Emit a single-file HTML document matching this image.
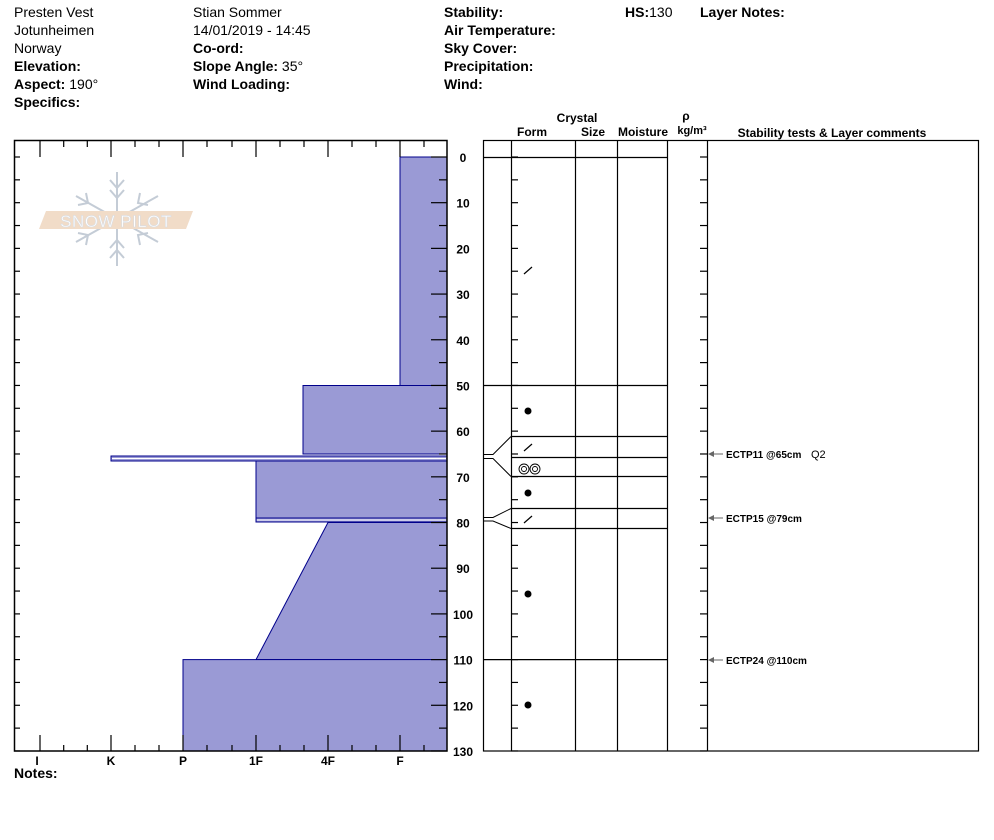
<!DOCTYPE html>
<html><head><style>
body{margin:0;background:#fff;}
svg{display:block;font-family:"Liberation Sans",Arial,sans-serif;}
.n{font-size:14px;fill:#000}
.b{font-size:14px;font-weight:bold;fill:#000}
.h{font-size:12px;font-weight:bold}
.s{font-size:10px;font-weight:bold}
</style></head><body>
<svg width="994" height="840" viewBox="0 0 994 840" xmlns="http://www.w3.org/2000/svg">
<rect width="994" height="840" fill="#fff"/>
<!-- header -->
<text class="n" x="14" y="17">Presten Vest</text>
<text class="n" x="14" y="35">Jotunheimen</text>
<text class="n" x="14" y="53">Norway</text>
<text class="b" x="14" y="71">Elevation:</text>
<text x="14" y="89"><tspan class="b">Aspect:</tspan><tspan class="n"> 190°</tspan></text>
<text class="b" x="14" y="107">Specifics:</text>
<text class="n" x="193" y="17">Stian Sommer</text>
<text class="n" x="193" y="35">14/01/2019 - 14:45</text>
<text class="b" x="193" y="53">Co-ord:</text>
<text x="193" y="71"><tspan class="b">Slope Angle:</tspan><tspan class="n"> 35°</tspan></text>
<text class="b" x="193" y="89">Wind Loading:</text>
<text class="b" x="444" y="17">Stability:</text>
<text class="b" x="444" y="35">Air Temperature:</text>
<text class="b" x="444" y="53">Sky Cover:</text>
<text class="b" x="444" y="71">Precipitation:</text>
<text class="b" x="444" y="89">Wind:</text>
<text x="625" y="17"><tspan class="b">HS:</tspan><tspan class="n">130</tspan></text>
<text class="b" x="700" y="17">Layer Notes:</text>

<!-- logo -->
<g stroke="#c4ccd6" stroke-width="2" fill="none">
<line x1="117" y1="172" x2="117" y2="266"/>
<line x1="76" y1="196" x2="158" y2="242"/>
<line x1="76" y1="242" x2="158" y2="196"/>
<path d="M110 180 L117 188 L124 180 M110 190 L117 198 L124 190 M110 258 L117 250 L124 258 M110 248 L117 240 L124 248"/>
<path d="M78 205 L88 203 L86 193 M148 205 L138 203 L140 193 M78 233 L88 235 L86 245 M148 233 L138 235 L140 245"/>
</g>
<polygon points="46,211 193,211 186,229 39,229" fill="#f1dcc8"/>
<text x="116" y="227" text-anchor="middle" font-size="17" fill="#fff" stroke="#d9dde3" stroke-width="0.6" letter-spacing="0.5">SNOW PILOT</text>

<!-- left hardness chart -->
<g fill="#9a9ad5" stroke="#00008b" stroke-width="1">
<rect x="400" y="157" width="47" height="228.5"/>
<rect x="303" y="385.5" width="144" height="68.5"/>
<rect x="256" y="458.6" width="191" height="59.4"/>
<polygon points="328,522.5 447,522.5 447,659.6 256,659.6"/>
<rect x="183" y="659.6" width="264" height="91.4"/>
<rect x="111" y="456" width="336" height="5"/>
<rect x="256" y="518" width="191" height="4"/>
</g>
<line x1="112" y1="458.5" x2="446" y2="458.5" stroke="#fff" stroke-width="1"/>
<line x1="257" y1="520" x2="446" y2="520" stroke="#fff" stroke-width="1"/>
<rect x="14.5" y="140.5" width="432.5" height="610.5" fill="none" stroke="#000" stroke-width="1.5"/>
<g stroke="#000" stroke-width="1.2">
<!-- major hardness ticks -->
<path d="M40 141v16M111 141v16M183 141v16M256 141v16M328 141v16M400 141v16M40 751v-16M111 751v-16M183 751v-16M256 751v-16M328 751v-16M400 751v-16"/>
<path d="M63.7 141v6M87.3 141v6M135 141v6M159 141v6M207 141v6M232 141v6M280 141v6M304 141v6M352 141v6M376 141v6M424 141v6M63.7 751v-6M87.3 751v-6M135 751v-6M159 751v-6M207 751v-6M232 751v-6M280 751v-6M304 751v-6M352 751v-6M376 751v-6M424 751v-6"/>
</g>
<g id="dt" stroke="#000" stroke-width="1.2"></g>
<g class="h" text-anchor="middle">
<text x="37" y="765">I</text><text x="111" y="765">K</text><text x="183" y="765">P</text><text x="256" y="765">1F</text><text x="328" y="765">4F</text><text x="400" y="765">F</text>
</g>
<text class="b" x="14" y="778">Notes:</text>

<!-- right panel -->
<g class="h" text-anchor="middle">
<text x="577" y="122">Crystal</text>
<text x="532" y="136">Form</text>
<text x="593" y="136">Size</text>
<text x="643" y="136">Moisture</text>
<text x="686" y="120">ρ</text>
<text x="692" y="134" font-size="11">kg/m³</text>
<text x="832" y="137">Stability tests &amp; Layer comments</text>
</g>
<rect x="483.5" y="140.5" width="495" height="610.5" fill="none" stroke="#000" stroke-width="1.2"/>
<g stroke="#000" stroke-width="1.2">
<path d="M511.5 140v611M575.5 140v611M617.5 140v611M667.5 140v611M707.5 140v611"/>
<path d="M483 157.5H667M483 385.5H667M511 436.5H667M511 457.5H667M511 476.5H667M511 508.5H667M511 528.5H667M483 659.6H667"/>
<path d="M483 454.5H493L511 436.5M483 458.5H493L511 476.5M483 517.5H493L511 508.5M483 521H493L511 528.5" fill="none" stroke-width="1"/>
</g>
<g id="rt" stroke="#000" stroke-width="1.2"></g>
<!-- symbols -->
<g stroke="#000" stroke-width="1.2">
<line x1="524" y1="274" x2="532" y2="267"/>
<line x1="524" y1="451" x2="532" y2="444"/>
<line x1="524" y1="523" x2="532" y2="516"/>
</g>
<g fill="#000"><circle cx="528" cy="411" r="3.5"/><circle cx="528" cy="493" r="3.5"/><circle cx="528" cy="594" r="3.5"/><circle cx="528" cy="705" r="3.5"/></g>
<g fill="none" stroke="#000" stroke-width="0.9"><circle cx="524" cy="469" r="5"/><circle cx="524" cy="469" r="2.5"/><circle cx="535" cy="469" r="5"/><circle cx="535" cy="469" r="2.5"/></g>
<!-- stability tests -->
<g stroke="#666" stroke-width="1"><path d="M709 454H723M709 518H723M709 660H723"/></g>
<g fill="#666"><path d="M708 454l6-3v6zM708 518l6-3v6zM708 660l6-3v6z"/></g>
<g class="s"><text x="726" y="458">ECTP11 @65cm</text><text x="726" y="522">ECTP15 @79cm</text><text x="726" y="664">ECTP24 @110cm</text></g>
<text x="811" y="458" font-size="11">Q2</text>
<g id="dl" class="h" text-anchor="middle"></g>
<script>
var ns="http://www.w3.org/2000/svg",dt=document.getElementById('dt'),rt=document.getElementById('rt'),dl=document.getElementById('dl');
function L(g,x1,y1,x2,y2){var l=document.createElementNS(ns,'line');l.setAttribute('x1',x1);l.setAttribute('y1',y1);l.setAttribute('x2',x2);l.setAttribute('y2',y2);g.appendChild(l);}
for(var d=0;d<=130;d+=5){var y=157+d*4.569;var maj=d%10==0;
L(dt,447,y,447-(maj?16:8),y);L(dt,14,y,20,y);
L(rt,511,y,518,y);L(rt,707,y,700,y);
if(maj){var t=document.createElementNS(ns,'text');t.setAttribute('x',463);t.setAttribute('y',y+5);t.textContent=d;dl.appendChild(t);}}
</script>
</svg>
</body></html>
